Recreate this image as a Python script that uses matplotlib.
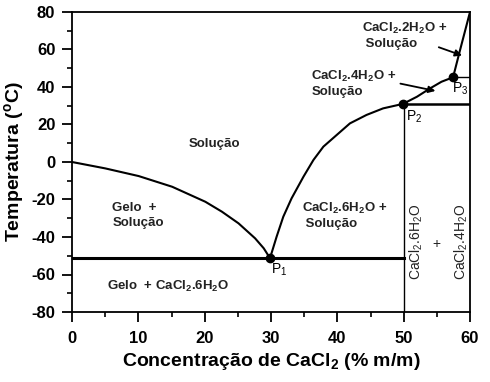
import matplotlib
matplotlib.use("Agg")
import matplotlib.pyplot as plt
from matplotlib.ticker import MultipleLocator

plt.rcParams['font.family'] = ['Liberation Sans', 'DejaVu Sans']
plt.rcParams['mathtext.default'] = 'regular'
plt.rcParams['axes.unicode_minus'] = False

# Liquidus curve: ice branch (0 -> P1)
ice_x = [0, 5.0, 10.05, 15.1, 20.1, 22.6, 25.1, 27.6, 28.9, 29.85]
ice_y = [0, -3.4, -7.5, -13.2, -21.2, -26.5, -32.7, -40.7, -46.0, -51.3]
# CaCl2.6H2O branch (P1 -> P2), CaCl2.4H2O branch (P2 -> P3), CaCl2.2H2O branch (P3 -> 60)
sol_x = [29.85, 30.85, 31.85, 33.1, 34.9, 36.4, 37.9, 39.9, 41.9, 44.4, 46.9, 49.9,
         52.0, 54.0, 55.7, 57.45, 58.5, 60.0]
sol_y = [-51.3, -39.8, -29.2, -19.4, -7.8, 1.1, 8.2, 14.4, 20.6, 25.1, 28.6, 31.0,
         34.8, 39.3, 42.8, 45.2, 59.7, 80.0]

points_x = [29.85, 49.9, 57.45]
points_y = [-51.3, 31.0, 45.2]
point_names = ['P$_1$', 'P$_2$', 'P$_3$']

eutectic_T = -51.3
p2_T = 31.0
p3_T = 45.2

fig = plt.figure(figsize=(4.9, 3.82), dpi=100)
ax = fig.add_axes([72/490, 1-312/382, 398/490, 300/382])

ax.plot(ice_x, ice_y, color='black', lw=1.5)
ax.plot(sol_x, sol_y, color='black', lw=1.5)
ax.plot([0, 50], [eutectic_T, eutectic_T], color='black', lw=2.2)
ax.plot([49.9, 60], [p2_T, p2_T], color='black', lw=1.8)
ax.plot([57.45, 60], [p3_T, p3_T], color='black', lw=1.0)
ax.plot([50, 50], [-80, p2_T], color='black', lw=1.0)
ax.plot(points_x, points_y, 'o', color='black', ms=6)

ax.set_xlim(0, 60)
ax.set_ylim(-80, 80)
ax.xaxis.set_major_locator(MultipleLocator(10))
ax.xaxis.set_minor_locator(MultipleLocator(5))
ax.yaxis.set_major_locator(MultipleLocator(20))
ax.yaxis.set_minor_locator(MultipleLocator(10))
ax.tick_params(which='major', direction='out', length=7, width=1.3, labelsize=12)
ax.tick_params(which='minor', direction='out', length=3.5, width=1.2)
ax.tick_params(axis='x', which='major', pad=7)
ax.tick_params(axis='y', which='major', pad=5)
for lab in ax.get_xticklabels() + ax.get_yticklabels():
    lab.set_fontweight('bold')
for s in ax.spines.values():
    s.set_linewidth(1.3)

ax.set_xlabel('Concentração de CaCl$_2$ (% m/m)', fontsize=14, fontweight='bold', labelpad=3)
ax.set_ylabel('Temperatura ($^{o}$C)', fontsize=14, fontweight='bold', labelpad=4)

tf = dict(fontsize=9.5, fontweight='bold', color='#222222')
ax.text(21.4, 9.5, 'Solução', ha='center', va='center', **tf)
ax.text(6.1, -28.7, 'Gelo  +\nSolução', ha='left', va='center', linespacing=1.3, **tf)
ax.text(34.7, -28.7, 'CaCl$_2$.6H$_2$O +\n Solução', ha='left', va='center', linespacing=1.2, **tf)
ax.text(5.3, -66.5, 'Gelo  + CaCl$_2$.6H$_2$O', ha='left', va='center', **tf)
ax.text(36.1, 42.1, 'CaCl$_2$.4H$_2$O +\nSolução', ha='left', va='center', linespacing=1.2, **tf)
ax.text(43.7, 67.5, 'CaCl$_2$.2H$_2$O +\n Solução', ha='left', va='center', linespacing=1.2, **tf)

for (px, py), nm, off in zip(zip(points_x, points_y), point_names, [(1.4, -6.3), (1.7, -6.8), (1.0, -6.4)]):
    ax.text(px + off[0], py + off[1], nm, ha='center', va='center', fontsize=10)

vf = dict(fontsize=10, color='#222222')
ax.text(51.9, -42.5, 'CaCl$_2$.6H$_2$O', rotation=90, ha='center', va='center', **vf)
ax.text(55.0, -44, '+', ha='center', va='center', **vf)
ax.text(58.7, -42.5, 'CaCl$_2$.4H$_2$O', rotation=90, ha='center', va='center', **vf)

ax.annotate('', xy=(59.2, 56.3), xytext=(54.9, 61.7),
            arrowprops=dict(arrowstyle='-|>', color='black', lw=1.3, mutation_scale=10))
ax.annotate('', xy=(55.2, 37.6), xytext=(49.1, 42.1),
            arrowprops=dict(arrowstyle='-|>', color='black', lw=1.3, mutation_scale=10))

fig.savefig('out.png', dpi=100)
